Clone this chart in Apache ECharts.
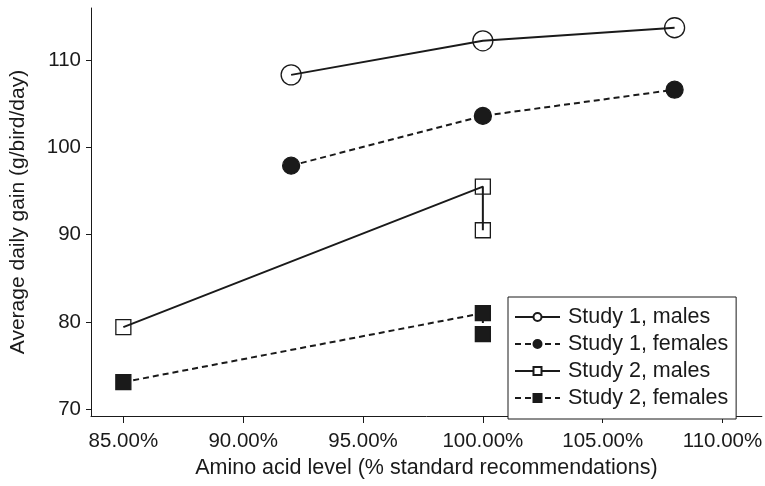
<!DOCTYPE html>
<html>
<head>
<meta charset="utf-8">
<script src="https://cdn.jsdelivr.net/npm/echarts@6/dist/echarts.min.js"></script>
<style>
  html, body { margin: 0; padding: 0; background: #fff; }
  #chart { width: 765px; height: 486px; }
</style>
</head>
<body>
<div id="chart"></div>
<script>
// Amino acid level (% of standard recommendation) and average daily gain (g/bird/day)
const study1Levels = [92, 100, 108];
const study1Males = [108.3, 112.2, 113.7];
const study1Females = [97.9, 103.6, 106.6];

const study2Levels = [85, 100, 100];
const study2Males = [79.4, 95.5, 90.5];
const study2Females = [73.1, 81.0, 78.6];

const xTicks = [85, 90, 95, 100, 105, 110];
const yTicks = [70, 80, 90, 100, 110];

const seriesNames = ['Study 1, males', 'Study 1, females', 'Study 2, males', 'Study 2, females'];
const openMarker = [true, false, true, false];

const pairs = (xs, ys) => xs.map((x, i) => [x, ys[i]]);

const ink = '#1a1a1a';
const font = 'Liberation Sans, Arial, Helvetica, sans-serif';

function lineSeries(name, data, dashed, symbol, filled, size) {
  return {
    name: name,
    type: 'line',
    data: data,
    symbol: symbol,
    symbolSize: size,
    showSymbol: true,
    lineStyle: { color: ink, width: 2, type: dashed ? [6, 4] : 'solid' },
    itemStyle: {
      color: filled ? ink : 'rgba(255,255,255,0)',
      borderColor: ink,
      borderWidth: 1.3
    },
    emphasis: { disabled: true },
    animation: false
  };
}

const chart = echarts.init(document.getElementById('chart'));
chart.setOption({
  backgroundColor: '#fff',
  grid: { left: 87, right: 3, top: 8, bottom: 70 },
  xAxis: {
    type: 'value',
    min: 83.65,
    max: 111.64,
    name: 'Amino acid level (% standard recommendations)',
    nameLocation: 'middle',
    nameGap: 40,
    nameTextStyle: { fontFamily: font, fontSize: 21.5, color: ink },
    axisLine: { show: true, lineStyle: { color: ink, width: 1 } },
    axisTick: { show: true, length: 7, customValues: xTicks, lineStyle: { color: ink } },
    axisLabel: {
      customValues: xTicks,
      formatter: v => v.toFixed(2) + '%',
      fontFamily: font, fontSize: 20.5, color: ink, margin: 15
    },
    splitLine: { show: false }
  },
  yAxis: {
    type: 'value',
    min: 69.22,
    max: 115.96,
    name: 'Average daily gain (g/bird/day)',
    nameLocation: 'middle',
    nameRotate: 90,
    nameGap: 62,
    nameTextStyle: { fontFamily: font, fontSize: 21, color: ink },
    axisLine: { show: true, lineStyle: { color: ink, width: 1 } },
    axisTick: { show: true, length: 5, customValues: yTicks, lineStyle: { color: ink } },
    axisLabel: {
      customValues: yTicks,
      fontFamily: font, fontSize: 20.5, color: ink, margin: 10
    },
    splitLine: { show: false }
  },
  legend: {
    orient: 'vertical',
    left: 508,
    top: 297,
    padding: [9, 8, 10, 6],
    itemGap: 5,
    itemWidth: 45,
    itemHeight: 10,
    backgroundColor: '#fff',
    borderColor: ink,
    borderWidth: 1,
    textStyle: { fontFamily: font, fontSize: 21.5, lineHeight: 22, color: ink, padding: [0, 0, 0, 3] },
    data: seriesNames.map((n, i) => openMarker[i]
      ? { name: n, itemStyle: { color: '#fff', borderColor: ink } }
      : { name: n })
  },
  series: [
    lineSeries(seriesNames[0], pairs(study1Levels, study1Males), false, 'circle', false, 20),
    lineSeries(seriesNames[1], pairs(study1Levels, study1Females), true, 'circle', true, 17),
    lineSeries(seriesNames[2], pairs(study2Levels, study2Males), false, 'rect', false, 15),
    lineSeries(seriesNames[3], pairs(study2Levels, study2Females), true, 'rect', true, 15)
  ]
});
</script>
</body>
</html>
